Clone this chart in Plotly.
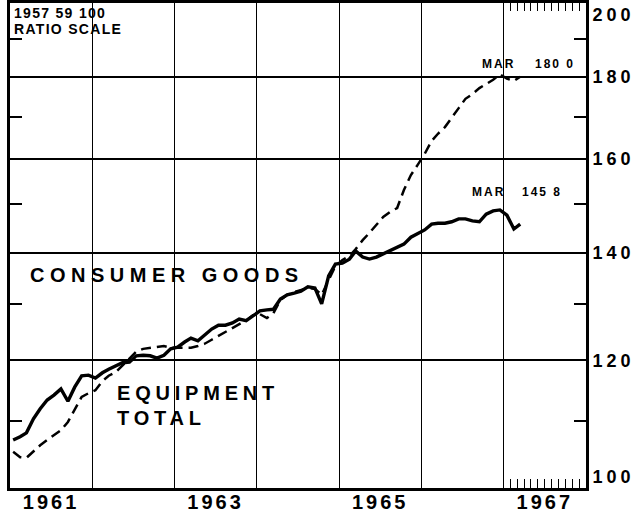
import plotly.graph_objects as go
import pandas as pd

# Monthly observations, Jan 1961 - Mar 1967 (index 1957-59 = 100)
months = pd.date_range("1961-01-01", "1967-03-01", freq="MS") + pd.Timedelta(days=14)

consumer_goods = [
    107.1, 107.6, 108.2, 110.4, 112.0, 113.4, 114.2, 115.2, 113.2, 115.5, 117.4, 117.5,
    117.0, 117.9, 118.5, 119.1, 119.6, 119.7, 120.8, 120.9, 120.8, 120.4, 120.9, 122.0,
    122.3, 123.2, 123.9, 123.4, 124.4, 125.5, 126.2, 126.2, 126.6, 127.3, 127.0, 127.9,
    128.8, 129.0, 129.1, 131.0, 131.8, 132.1, 132.5, 133.3, 133.1, 130.1, 135.4, 137.7,
    137.9, 138.7, 140.3, 139.1, 138.7, 139.1, 139.7, 140.5, 141.1, 141.7, 143.1, 143.8,
    144.6, 145.8, 146.0, 146.0, 146.3, 146.9, 146.9, 146.5, 146.3, 147.9, 148.6, 148.8,
    147.7, 144.8, 145.8,
]

equipment_total = [
    105.3, 104.5, 104.4, 105.4, 106.3, 107.1, 107.9, 108.6, 109.9, 111.8, 113.9, 114.5,
    115.0, 116.5, 117.4, 118.0, 119.1, 120.2, 121.5, 122.0, 122.2, 122.3, 122.5, 122.2,
    122.2, 122.2, 122.2, 122.5, 122.9, 123.6, 124.3, 125.0, 125.7, 126.4, 127.1, 128.0,
    128.2, 127.5, 128.4, 130.8, 131.8, 132.3, 132.7, 133.1, 132.9, 131.8, 134.6, 137.3,
    138.5, 139.3, 140.7, 142.5, 144.0, 145.6, 147.3, 148.4, 149.2, 153.1, 156.4, 158.7,
    161.2, 164.2, 165.9, 167.5, 169.9, 172.1, 174.4, 175.6, 177.1, 178.1, 179.2, 180.6,
    179.5, 178.9, 180.0,
]

y_tick_values = [100, 120, 140, 160, 180, 200]
y_tick_labels = ["100", "120", "140", "160", "180", "200"]
y_minor_values = [110, 130, 150, 170, 190]
year_grid = [f"{y}-01-01" for y in range(1961, 1969)]
year_label_pos = ["1961-07-02", "1963-07-02", "1965-07-02", "1967-07-02"]
year_labels = ["1961", "1963", "1965", "1967"]
month_ticks_1967 = [f"1967-{m:02d}-01" for m in range(2, 13)]

FONT = "Liberation Sans"
X_RANGE = ["1961-01-01", "1968-01-01"]
Y_RANGE = [2.0, 2.30103]


def spaced(text, px):
    return f'<span style="letter-spacing:{px}px">{text}</span>'


def y_label(text):
    # end labels sit just inside the frame, as in the original
    s = spaced(text, 4)
    if text == "200":
        return "<br>" + s
    if text == "100":
        return s + "<br> "
    return s


fig = go.Figure()
fig.add_trace(go.Scatter(x=months, y=consumer_goods, mode="lines", name="Consumer goods",
                         line=dict(color="black", width=3.4)))
fig.add_trace(go.Scatter(x=months, y=equipment_total, mode="lines", name="Equipment total",
                         line=dict(color="black", width=2.5, dash="10px,6px")))
# empty traces so the helper axes (labels / ticks) are drawn
for xa, ya in (("x2", "y"), ("x3", "y"), ("x", "y2")):
    fig.add_trace(go.Scatter(x=[], y=[], xaxis=xa, yaxis=ya, mode="lines",
                             showlegend=False, hoverinfo="skip"))

fig.update_layout(
    width=643, height=512,
    margin=dict(l=10, r=57, t=3, b=24),
    paper_bgcolor="white", plot_bgcolor="white",
    showlegend=False,
    xaxis=dict(type="date", range=X_RANGE, tickmode="array", tickvals=year_grid,
               showticklabels=False, ticks="", showgrid=True, gridcolor="black", gridwidth=1,
               showline=True, linecolor="black", linewidth=3, mirror=True, zeroline=False,
               automargin=False,
               minor=dict(tickmode="array", tickvals=month_ticks_1967, ticks="inside",
                          ticklen=9, tickwidth=1, tickcolor="black", showgrid=False)),
    xaxis2=dict(type="date", range=X_RANGE, overlaying="x", side="bottom", anchor="y",
                tickmode="array", tickvals=year_label_pos,
                ticktext=[spaced(t, 3) for t in year_labels],
                ticks="", showgrid=False, showline=False, zeroline=False, automargin=False,
                tickfont=dict(family=FONT, size=20, color="black", weight="bold")),
    xaxis3=dict(type="date", range=X_RANGE, overlaying="x", side="top", anchor="y",
                tickmode="array", tickvals=month_ticks_1967, ticks="inside", ticklen=8,
                tickwidth=1, tickcolor="black", showticklabels=False, showgrid=False,
                showline=False, zeroline=False, automargin=False),
    yaxis=dict(type="log", range=Y_RANGE, side="right", tickmode="array",
               tickvals=y_tick_values, ticktext=[y_label(t) for t in y_tick_labels],
               ticks="", showgrid=True, gridcolor="black", gridwidth=1.5,
               showline=True, linecolor="black", linewidth=3, mirror=True, zeroline=False,
               automargin=False, ticklabeloverflow="allow",
               tickfont=dict(family=FONT, size=18, color="black", weight="bold"),
               minor=dict(tickmode="array", tickvals=y_minor_values, ticks="inside",
                          ticklen=12, tickwidth=1.5, tickcolor="black", showgrid=False)),
    yaxis2=dict(type="log", range=Y_RANGE, overlaying="y", side="left", anchor="x",
                tickmode="array", tickvals=y_minor_values, ticks="inside", ticklen=12,
                tickwidth=1.5, tickcolor="black", showticklabels=False, showgrid=False,
                showline=False, zeroline=False, automargin=False),
)


def note(text, x, y, size, spacing):
    fig.add_annotation(text=spaced(text, spacing), xref="paper", yref="paper", x=x, y=y,
                       xanchor="left", yanchor="middle", showarrow=False,
                       font=dict(family=FONT, size=size, color="black", weight="bold"))


note("1957 59 100", 0.004, 0.979, 14, 1.3)
note("RATIO SCALE", 0.004, 0.946, 14, 1.3)
note("CONSUMER GOODS", 0.031, 0.439, 20, 5.5)
note("EQUIPMENT", 0.182, 0.196, 20, 4.8)
note("TOTAL", 0.182, 0.144, 20, 4.8)
note("MAR", 0.816, 0.874, 12, 2)
note("180 0", 0.908, 0.874, 12, 2)
note("MAR", 0.799, 0.610, 12, 2)
note("145 8", 0.885, 0.610, 12, 2)

fig.write_html("out.html", config={"displayModeBar": False},
               post_script="document.body.style.margin='0';")
